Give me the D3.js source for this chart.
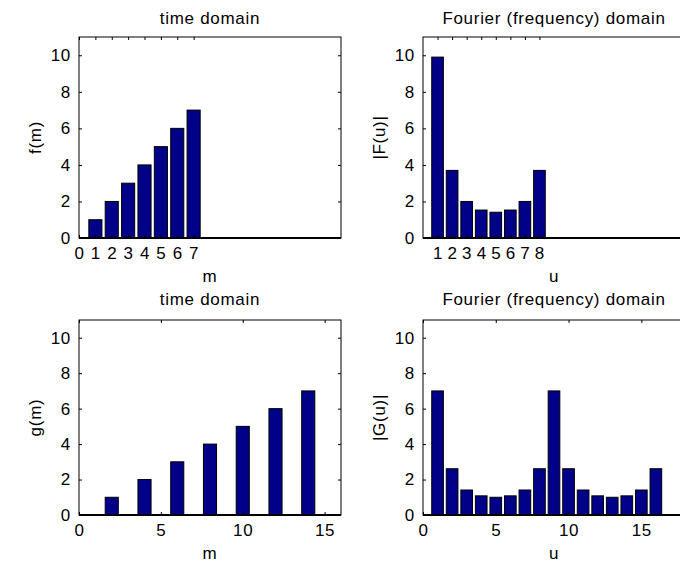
<!DOCTYPE html>
<html>
<head>
<meta charset="utf-8">
<script src="https://cdn.jsdelivr.net/npm/d3@7"></script>
<style>
    body { margin: 0; background: #fff; }
    text { font-family: "Liberation Sans", Arial, sans-serif; font-size: 17px; letter-spacing: 0.7px; fill: #000; }
</style>
</head>
<body>
<div class="svg-container"></div>
<script>
// Values.
const fIndex = [0, 1, 2, 3, 4, 5, 6, 7];
const fValues = [0, 1, 2, 3, 4, 5, 6, 7];
const FIndex = [1, 2, 3, 4, 5, 6, 7, 8];
const FValues = [9.9, 3.7, 2.0, 1.53, 1.41, 1.53, 2.0, 3.7];
const gIndex = [0, 1, 2, 3, 4, 5, 6, 7, 8, 9, 10, 11, 12, 13, 14, 15];
const gValues = [0, 0, 1, 0, 2, 0, 3, 0, 4, 0, 5, 0, 6, 0, 7, 0];
const GIndex = [1, 2, 3, 4, 5, 6, 7, 8, 9, 10, 11, 12, 13, 14, 15, 16];
const GValues = [7, 2.61, 1.41, 1.08, 1.0, 1.08, 1.41, 2.61, 7, 2.61, 1.41, 1.08, 1.0, 1.08, 1.41, 2.61];

const yTicks = [0, 2, 4, 6, 8, 10];
const smallTicksF = [0, 1, 2, 3, 4, 5, 6, 7];
const smallTicksFu = [1, 2, 3, 4, 5, 6, 7, 8];
const wideTicks = [0, 5, 10, 15];

const WIDTH = 680;
const HEIGHT = 563;
const BAR_COLOR = "#000088";
const BAR_WIDTH = 0.8;
const TICK_LEN = 3;

const svg = d3
    .select(".svg-container")
    .append("svg")
    .attr("width", WIDTH)
    .attr("height", HEIGHT);

const panels = [
    { x: 79, y: 37, w: 262, h: 201, xMax: 16, xs: fIndex, ys: fValues, xTicks: smallTicksF,
      title: "time domain", titleGap: 13, xLabel: "m", yLabel: "f(m)" },
    { x: 423, y: 37, w: 262, h: 201, xMax: 18, xs: FIndex, ys: FValues, xTicks: smallTicksFu,
      title: "Fourier (frequency) domain", titleGap: 13, xLabel: "u", yLabel: "|F(u)|" },
    { x: 79, y: 320, w: 262, h: 195, xMax: 16, xs: gIndex, ys: gValues, xTicks: wideTicks,
      title: "time domain", titleGap: 15, xLabel: "m", yLabel: "g(m)" },
    { x: 423, y: 320, w: 262, h: 195, xMax: 18, xs: GIndex, ys: GValues, xTicks: wideTicks,
      title: "Fourier (frequency) domain", titleGap: 15, xLabel: "u", yLabel: "|G(u)|" },
];

panels.forEach((p, i) => drawPanel(p, i));

function drawPanel(p, i) {
    const x = d3.scaleLinear().domain([0, p.xMax]).range([0, p.w]);
    const y = d3.scaleLinear().domain([0, 11]).range([p.h, 0]);
    const g = svg.append("g").attr("transform", "translate(" + p.x + ", " + p.y + ")");

    g.append("clipPath")
        .attr("id", "clip" + i)
        .append("rect")
        .attr("width", p.w)
        .attr("height", p.h);

    // Bars, clipped to the axes box.
    g.append("g")
        .attr("clip-path", "url(#clip" + i + ")")
        .selectAll("rect")
        .data(p.xs.map((v, k) => ({ x: v, y: p.ys[k] })))
        .enter()
        .append("rect")
        .attr("x", (d) => x(d.x - BAR_WIDTH / 2))
        .attr("width", x(BAR_WIDTH) - x(0))
        .attr("y", (d) => y(d.y))
        .attr("height", (d) => y(0) - y(d.y))
        .attr("fill", BAR_COLOR)
        .attr("stroke", "#000")
        .attr("stroke-width", 1);

    // Inward ticks on all four sides, labels on left and bottom.
    const xAxis = d3.axisBottom(x).tickValues(p.xTicks).tickSize(-TICK_LEN).tickPadding(TICK_LEN + 6);
    const xAxisTop = d3.axisTop(x).tickValues(p.xTicks).tickSize(-TICK_LEN).tickFormat("");
    const yAxis = d3.axisLeft(y).tickValues(yTicks).tickSize(-TICK_LEN).tickPadding(TICK_LEN + 5);
    const yAxisRight = d3.axisRight(y).tickValues(yTicks).tickSize(-TICK_LEN).tickFormat("");

    g.append("g").attr("transform", "translate(0," + p.h + ")").call(xAxis);
    g.append("g").call(xAxisTop);
    g.append("g").call(yAxis);
    g.append("g").attr("transform", "translate(" + p.w + ",0)").call(yAxisRight);

    g.selectAll(".domain").remove();
    g.selectAll(".tick line").attr("stroke", "#000");
    g.selectAll(".tick text").attr("font-size", null).attr("font-family", null).attr("fill", "#000");

    // Axes box and bar baseline.
    g.append("rect")
        .attr("width", p.w)
        .attr("height", p.h)
        .attr("fill", "none")
        .attr("stroke", "#000")
        .attr("stroke-width", 1);
    g.append("line")
        .attr("x1", 0)
        .attr("x2", p.w)
        .attr("y1", y(0))
        .attr("y2", y(0))
        .attr("stroke", "#000")
        .attr("stroke-width", 2);

    g.append("text")
        .attr("x", p.w / 2)
        .attr("y", -p.titleGap)
        .attr("text-anchor", "middle")
        .text(p.title);
    g.append("text")
        .attr("x", p.w / 2)
        .attr("y", p.h + 44)
        .attr("text-anchor", "middle")
        .text(p.xLabel);
    g.append("text")
        .attr("transform", "translate(-38," + p.h / 2 + ") rotate(-90)")
        .attr("text-anchor", "middle")
        .text(p.yLabel);
}
</script>
</body>
</html>
